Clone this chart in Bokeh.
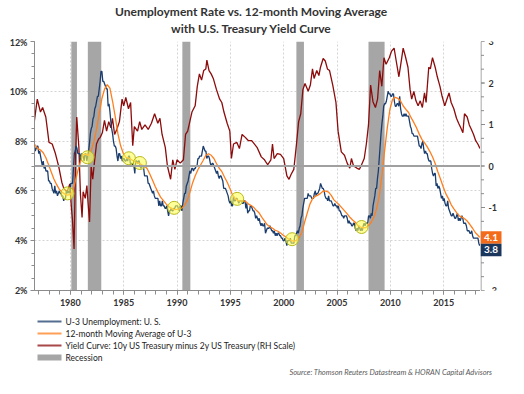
from bokeh.plotting import figure
from bokeh.layouts import column, row
from bokeh.models import (Range1d, LinearAxis, SingleIntervalTicker, PrintfTickFormatter,
                          Span, Grid, Label)
from bokeh.core.properties import value
from bokeh.embed import file_html
from bokeh.resources import INLINE

title_lines = ["Unemployment Rate vs. 12-month Moving Average", "with U.S. Treasury Yield Curve"]
source_note = "Source: Thomson Reuters Datastream & HORAN Capital Advisors"
series_names = ["U-3 Unemployment: U. S.", "12-month Moving Average of U-3",
                "Yield Curve: 10y US Treasury minus 2y US Treasury (RH Scale)", "Recession"]

# U-3 unemployment rate, monthly, starting June 1976
u3_start_year, u3_start_month = 1976, 6
u3 = [
    7.6, 7.8, 7.8, 7.6, 7.7, 7.8, 7.8,
    7.5, 7.6, 7.4, 7.2, 7.0, 7.2, 6.9, 7.0, 6.8, 6.8, 6.8, 6.4,
    6.4, 6.3, 6.3, 6.1, 6.0, 5.9, 6.2, 5.9, 6.0, 5.8, 5.9, 6.0,
    5.9, 5.9, 5.8, 5.8, 5.6, 5.7, 5.7, 6.0, 5.9, 6.0, 5.9, 6.0,
    6.3, 6.3, 6.3, 6.9, 7.5, 7.6, 7.8, 7.7, 7.5, 7.5, 7.5, 7.2,
    7.5, 7.4, 7.4, 7.2, 7.5, 7.5, 7.2, 7.4, 7.6, 7.9, 8.3, 8.5,
    8.6, 8.9, 9.0, 9.3, 9.4, 9.6, 9.8, 9.8, 10.1, 10.4, 10.8, 10.8,
    10.4, 10.4, 10.3, 10.2, 10.1, 10.1, 9.4, 9.5, 9.2, 8.8, 8.5, 8.3,
    8.0, 7.8, 7.8, 7.7, 7.4, 7.2, 7.5, 7.5, 7.3, 7.4, 7.2, 7.3,
    7.3, 7.2, 7.2, 7.3, 7.2, 7.4, 7.4, 7.1, 7.1, 7.1, 7.0, 7.0,
    6.7, 7.2, 7.2, 7.1, 7.2, 7.2, 7.0, 6.9, 7.0, 7.0, 6.9, 6.6,
    6.6, 6.6, 6.6, 6.3, 6.3, 6.2, 6.1, 6.0, 5.9, 6.0, 5.8, 5.7,
    5.7, 5.7, 5.7, 5.4, 5.6, 5.4, 5.4, 5.6, 5.4, 5.4, 5.3, 5.3,
    5.4, 5.2, 5.0, 5.2, 5.2, 5.3, 5.2, 5.2, 5.3, 5.3, 5.4, 5.4,
    5.4, 5.3, 5.2, 5.4, 5.4, 5.2, 5.5, 5.7, 5.9, 5.9, 6.2, 6.3,
    6.4, 6.6, 6.8, 6.7, 6.9, 6.9, 6.8, 6.9, 6.9, 7.0, 7.0, 7.3,
    7.3, 7.4, 7.4, 7.4, 7.6, 7.8, 7.7, 7.6, 7.6, 7.3, 7.4, 7.4,
    7.3, 7.1, 7.0, 7.1, 7.1, 7.0, 6.9, 6.8, 6.7, 6.8, 6.6, 6.5,
    6.6, 6.6, 6.5, 6.4, 6.1, 6.1, 6.1, 6.0, 5.9, 5.8, 5.6, 5.5,
    5.6, 5.4, 5.4, 5.8, 5.6, 5.6, 5.7, 5.7, 5.6, 5.5, 5.6, 5.6,
    5.6, 5.5, 5.5, 5.6, 5.6, 5.3, 5.5, 5.1, 5.2, 5.2, 5.4, 5.4,
    5.3, 5.2, 5.2, 5.1, 4.9, 5.0, 4.9, 4.8, 4.9, 4.7, 4.6, 4.7,
    4.6, 4.6, 4.7, 4.3, 4.4, 4.5, 4.5, 4.5, 4.6, 4.5, 4.4, 4.4,
    4.3, 4.4, 4.2, 4.3, 4.2, 4.3, 4.3, 4.2, 4.2, 4.1, 4.1, 4.0,
    4.0, 4.1, 4.0, 3.8, 4.0, 4.0, 4.0, 4.1, 3.9, 3.9, 3.9, 3.9,
    4.2, 4.2, 4.3, 4.4, 4.3, 4.5, 4.6, 4.9, 5.0, 5.3, 5.5, 5.7,
    5.7, 5.7, 5.7, 5.9, 5.8, 5.8, 5.8, 5.7, 5.7, 5.7, 5.9, 6.0,
    5.8, 5.9, 5.9, 6.0, 6.1, 6.3, 6.2, 6.1, 6.1, 6.0, 5.8, 5.7,
    5.7, 5.6, 5.8, 5.6, 5.6, 5.6, 5.5, 5.4, 5.4, 5.5, 5.4, 5.4,
    5.3, 5.4, 5.2, 5.2, 5.1, 5.0, 5.0, 4.9, 5.0, 5.0, 5.0, 4.9,
    4.7, 4.8, 4.7, 4.7, 4.6, 4.6, 4.7, 4.7, 4.5, 4.4, 4.5, 4.4,
    4.6, 4.5, 4.4, 4.5, 4.4, 4.6, 4.7, 4.6, 4.7, 4.7, 4.7, 5.0,
    5.0, 4.9, 5.1, 5.0, 5.4, 5.6, 5.8, 6.1, 6.1, 6.5, 6.8, 7.3,
    7.8, 8.3, 8.7, 9.0, 9.4, 9.5, 9.5, 9.6, 9.8, 10.0, 9.9, 9.9,
    9.8, 9.8, 9.9, 9.9, 9.6, 9.4, 9.4, 9.5, 9.5, 9.4, 9.8, 9.3,
    9.1, 9.0, 9.0, 9.1, 9.0, 9.1, 9.0, 9.0, 9.0, 8.8, 8.6, 8.5,
    8.3, 8.3, 8.2, 8.2, 8.2, 8.2, 8.2, 8.0, 7.8, 7.8, 7.7, 7.9,
    8.0, 7.7, 7.5, 7.6, 7.5, 7.5, 7.3, 7.2, 7.2, 7.2, 6.9, 6.7,
    6.6, 6.7, 6.7, 6.2, 6.3, 6.1, 6.2, 6.1, 5.9, 5.7, 5.8, 5.6,
    5.7, 5.5, 5.4, 5.4, 5.6, 5.3, 5.2, 5.1, 5.0, 5.0, 5.1, 5.0,
    4.9, 4.9, 5.0, 5.1, 4.8, 4.9, 4.8, 4.9, 5.0, 4.9, 4.7, 4.7,
    4.7, 4.6, 4.4, 4.4, 4.4, 4.3, 4.3, 4.4, 4.2, 4.1, 4.1, 4.1,
    4.1, 4.1, 4.1, 3.9, 3.8,
]

# 12-month moving average of U-3, read at quarter ends starting June 1976, then May 2018
ma_start_year, ma_start_month, ma_step_months = 1976, 6, 3
ma_q = [
    8.02, 7.83, 7.70,
    7.64, 7.53, 7.33, 7.05,
    6.76, 6.48, 6.26, 6.07,
    5.95, 5.88, 5.83, 5.85,
    5.96, 6.37, 6.82, 7.18,
    7.46, 7.48, 7.41, 7.62,
    7.97, 8.48, 9.10, 9.71,
    10.09, 10.27, 10.13, 9.60,
    8.98, 8.30, 7.82, 7.51,
    7.35, 7.32, 7.26, 7.19,
    7.14, 7.11, 7.05, 7.00,
    6.89, 6.67, 6.43, 6.18,
    5.95, 5.75, 5.62, 5.49,
    5.37, 5.31, 5.25, 5.26,
    5.28, 5.31, 5.43, 5.62,
    5.94, 6.32, 6.61, 6.85,
    7.04, 7.23, 7.43, 7.49,
    7.43, 7.30, 7.09, 6.91,
    6.77, 6.55, 6.35, 6.10,
    5.83, 5.69, 5.61, 5.59,
    5.61, 5.57, 5.47, 5.41,
    5.33, 5.21, 5.11, 4.94,
    4.79, 4.64, 4.56, 4.50,
    4.42, 4.38, 4.31, 4.22,
    4.15, 4.07, 4.01, 3.97,
    4.02, 4.13, 4.34, 4.74,
    5.11, 5.47, 5.69, 5.78,
    5.83, 5.90, 6.00, 5.99,
    5.95, 5.82, 5.64, 5.54,
    5.44, 5.32, 5.20, 5.08,
    4.94, 4.83, 4.74, 4.61,
    4.55, 4.52, 4.53, 4.62,
    4.74, 4.95, 5.28, 5.80,
    6.62, 7.61, 8.52, 9.28,
    9.68, 9.76, 9.72, 9.61,
    9.41, 9.27, 9.15, 8.93,
    8.74, 8.53, 8.28, 8.07,
    7.93, 7.77, 7.58, 7.36,
    7.09, 6.76, 6.47, 6.16,
    5.88, 5.68, 5.44, 5.28,
    5.13, 5.00, 4.95, 4.88,
    4.79, 4.65, 4.50, 4.33,
    4.22,
]
ma_last_year, ma_last_month, ma_last = 2018, 5, 4.13

# 10y - 2y Treasury spread (right-hand scale)
yc_year = [
    1976.62, 1976.9, 1977.2, 1977.4, 1977.7, 1978.0, 1978.3, 1978.6, 1978.9, 1979.2,
    1979.4, 1979.7, 1979.95, 1980.1, 1980.2, 1980.35, 1980.5, 1980.6, 1980.8, 1980.95,
    1981.1, 1981.2, 1981.4, 1981.55, 1981.65, 1981.8, 1981.95, 1982.1, 1982.25, 1982.45,
    1982.65, 1982.8, 1983.0, 1983.2, 1983.4, 1983.6, 1983.8, 1983.95, 1984.15, 1984.35,
    1984.6, 1984.85, 1985.0, 1985.2, 1985.45, 1985.65, 1985.85, 1986.0, 1986.3, 1986.5,
    1986.7, 1987.0, 1987.3, 1987.6, 1987.9, 1988.2, 1988.4, 1988.6, 1988.9, 1989.1,
    1989.4, 1989.6, 1989.8, 1990.0, 1990.3, 1990.6, 1990.8, 1991.0, 1991.2, 1991.4,
    1991.7, 1991.9, 1992.1, 1992.3, 1992.5, 1992.7, 1992.8, 1993.0, 1993.2, 1993.4,
    1993.7, 1994.0, 1994.2, 1994.4, 1994.7, 1994.95, 1995.1, 1995.3, 1995.6, 1995.85,
    1996.1, 1996.4, 1996.7, 1997.0, 1997.5, 1997.9, 1998.2, 1998.5, 1998.8, 1998.95,
    1999.1, 1999.4, 1999.7, 2000.0, 2000.3, 2000.5, 2000.7, 2000.95, 2001.2, 2001.4,
    2001.6, 2001.8, 2002.0, 2002.3, 2002.5, 2002.7, 2002.85, 2003.1, 2003.3, 2003.45,
    2003.7, 2003.9, 2004.1, 2004.3, 2004.6, 2004.9, 2005.1, 2005.4, 2005.7, 2005.95,
    2006.2, 2006.35, 2006.55, 2006.85, 2007.1, 2007.3, 2007.55, 2007.75, 2007.95, 2008.15,
    2008.37, 2008.6, 2008.8, 2009.0, 2009.2, 2009.4, 2009.6, 2009.9, 2010.1, 2010.35,
    2010.55, 2010.8, 2011.0, 2011.2, 2011.4, 2011.65, 2011.85, 2012.0, 2012.2, 2012.4,
    2012.6, 2012.8, 2013.0, 2013.2, 2013.35, 2013.6, 2013.75, 2013.95, 2014.2, 2014.4,
    2014.65, 2014.85, 2015.1, 2015.3, 2015.5, 2015.7, 2015.95, 2016.2, 2016.4, 2016.6,
    2016.8, 2016.95, 2017.2, 2017.4, 2017.6, 2017.8, 2018.0, 2018.2, 2018.4,
]
yc_val = [
    1.07, 1.61, 1.30, 1.41, 1.18, 0.57, 0.53, 0.30, 0.00, -0.39,
    -0.55, -0.62, -0.43, -1.00, -1.30, -2.00, 0.30, 1.18, 0.45, -0.70,
    -1.24, -0.62, -0.78, -0.47, -0.85, -1.35, 0.00, -0.32, 0.07, 0.53,
    0.65, 0.69, 0.80, 1.10, 0.84, 1.07, 0.92, 1.15, 0.76, 0.88,
    1.07, 1.61, 1.45, 1.65, 1.38, 1.53, 0.49, 0.95, 0.84, 1.07,
    0.88, 0.99, 0.88, 1.03, 1.26, 1.03, 1.15, 0.76, 0.45, 0.00,
    -0.32, 0.15, -0.08, 0.15, 0.07, 0.15, 0.76, 0.84, 1.07, 1.30,
    1.45, 1.92, 2.22, 2.07, 2.30, 2.34, 2.55, 2.30, 2.22, 2.11,
    1.84, 1.61, 1.53, 1.30, 1.03, 0.84, 0.18, 0.53, 0.57, 0.42,
    0.76, 0.69, 0.61, 0.61, 0.45, 0.22, 0.15, 0.03, 0.15, 0.53,
    0.18, 0.30, 0.28, 0.18, -0.24, -0.32, -0.20, -0.08, 0.53, 1.07,
    1.26, 1.84, 1.99, 1.80, 1.95, 2.34, 2.11, 2.30, 2.18, 2.38,
    2.59, 2.53, 2.34, 2.30, 1.95, 1.53, 0.84, 0.34, 0.26, 0.07,
    -0.05, 0.18, 0.00, -0.05, -0.08, 0.03, 0.18, 0.53, 0.99, 1.95,
    1.55, 1.41, 1.61, 2.30, 1.92, 2.61, 2.45, 2.61, 2.76, 2.84,
    2.53, 2.15, 2.49, 2.84, 2.65, 2.38, 1.84, 1.61, 1.80, 1.57,
    1.45, 1.57, 1.41, 1.76, 1.53, 2.38, 2.34, 2.61, 2.38, 2.15,
    1.92, 1.68, 1.45, 1.61, 1.76, 1.53, 1.38, 1.15, 1.03, 0.92,
    0.80, 1.26, 1.18, 0.99, 0.88, 0.76, 0.61, 0.53, 0.42,
]

recession_start = [1980.09, 1981.64, 1990.5, 2001.19, 2007.95]
recession_end = [1980.62, 1982.9, 1991.25, 2001.9, 2009.46]

cross_year = [1979.73, 1981.61, 1985.49, 1986.52, 1989.73, 1995.64, 2000.79, 2007.3]
cross_val = [5.9, 7.35, 7.31, 7.12, 5.32, 5.68, 4.06, 4.55]

# right-hand (yield curve) scale tick labels
rh_ticks = [3, 2, 1, 0, -1, -2, -3]

# colours and fonts
C_BLUE = "#1b3d6d"
C_ORANGE = "#ff7f1e"
C_RED = "#8c0b0b"
C_REC = "#a6a6a6"
C_TEXT = "#333333"
C_AXIS = "#8c8c8c"
C_TAG_ORANGE = "#f36c1c"
C_TAG_NAVY = "#1b365d"
FONT = "Lato"

W = 508
W_RIGHT = 28
H_TITLE = 36
H_MAIN = 276
H_LEG = 66
B_LEFT, B_TOP, B_BOTTOM = 34, 5, 22
FRAME_H = H_MAIN - B_TOP - B_BOTTOM
Y0, Y1 = 2, 12
R0, R1 = -3, 3
TAG_W, TAG_H = 21, 12.5


def month_pos(year, month):
    return year + (month - 0.5) / 12.0


u3_x = [month_pos(u3_start_year, u3_start_month + i) for i in range(len(u3))]
ma_x = [month_pos(ma_start_year, ma_start_month + ma_step_months * i) for i in range(len(ma_q))]
ma_x.append(month_pos(ma_last_year, ma_last_month))
ma_y = list(ma_q) + [ma_last]


def strip(width, height):
    f = figure(width=width, height=height, output_backend="svg", toolbar_location=None,
               x_range=Range1d(0, width), y_range=Range1d(height, 0),
               min_border_left=0, min_border_right=0, min_border_top=0, min_border_bottom=0,
               x_axis_type=None, y_axis_type=None)
    f.outline_line_color = None
    return f


# ---------- title strip ----------
tfig = strip(W, H_TITLE)
tfig.text(x=[B_LEFT + (W - B_LEFT - W_RIGHT) / 2 - 6] * 2, y=[11, 28], text=title_lines,
          text_font=value(FONT), text_font_style="bold", text_font_size=value("12px"),
          text_align="center", text_baseline="middle", text_color=C_TEXT)

# ---------- main chart ----------
p = figure(width=W - W_RIGHT, height=H_MAIN, output_backend="svg", toolbar_location=None,
           x_range=Range1d(1976.64, 2018.45), y_range=Range1d(Y0, Y1),
           min_border_left=B_LEFT, min_border_right=0, min_border_top=B_TOP,
           min_border_bottom=B_BOTTOM, x_axis_type=None, y_axis_type=None)
p.outline_line_color = None
p.extra_y_ranges = {"yc": Range1d(R0, R1)}

xaxis = LinearAxis(ticker=SingleIntervalTicker(interval=5, num_minor_ticks=5))
yaxis = LinearAxis(ticker=SingleIntervalTicker(interval=2, num_minor_ticks=4),
                   formatter=PrintfTickFormatter(format="%d%%"))
for ax in (xaxis, yaxis):
    ax.axis_line_color = C_AXIS
    ax.major_tick_line_color = C_AXIS
    ax.minor_tick_line_color = C_AXIS
    ax.major_tick_in = 0
    ax.minor_tick_in = 0
    ax.major_tick_out = 4
    ax.minor_tick_out = 3
    ax.major_label_text_font = FONT
    ax.major_label_text_font_style = "bold"
    ax.major_label_text_font_size = "9px"
    ax.major_label_text_color = C_TEXT
    ax.major_label_standoff = 3
xaxis.minor_tick_out = 4
xaxis.major_label_standoff = 4
p.add_layout(xaxis, "below")
p.add_layout(yaxis, "left")

p.add_layout(Grid(dimension=0, ticker=xaxis.ticker, grid_line_color="#d4d4d4",
                  grid_line_dash="2 2", grid_line_width=1))
p.add_layout(Grid(dimension=1, ticker=yaxis.ticker, grid_line_color="#d4d4d4",
                  grid_line_dash="2 2", grid_line_width=1))

p.quad(left=recession_start, right=recession_end, bottom=Y0, top=Y1,
       fill_color=C_REC, line_color=None)

p.add_layout(Span(location=0, dimension="width", y_range_name="yc",
                  line_color="#a0a0a0", line_width=2))

p.line(yc_year, yc_val, y_range_name="yc", line_color=C_RED, line_width=1.3)
p.line(u3_x, u3, line_color=C_BLUE, line_width=1.3)
p.line(ma_x, ma_y, line_color=C_ORANGE, line_width=1.3)

p.scatter(cross_year, cross_val, size=13, fill_color="#ffff55", fill_alpha=0.6,
          line_color="#b8b820", line_width=1)

# ---------- right-hand scale + end-value tags (frame aligned with the main chart) ----------
unit_l = FRAME_H / (Y1 - Y0)
rfig = figure(width=W_RIGHT, height=H_MAIN, output_backend="svg", toolbar_location=None,
              x_range=Range1d(0, W_RIGHT), y_range=Range1d(Y0, Y1),
              min_border_left=0, min_border_right=0, min_border_top=B_TOP,
              min_border_bottom=B_BOTTOM, x_axis_type=None, y_axis_type=None)
rfig.outline_line_color = None
rfig.extra_y_ranges = {"yc": Range1d(R0, R1)}
minor_r = [R0 + k / 3 for k in range((R1 - R0) * 3 + 1)]
rfig.segment(x0=[0.5], x1=[0.5], y0=[R0], y1=[R1], y_range_name="yc",
             line_color=C_AXIS, line_width=1)
rfig.segment(x0=[0.5] * len(minor_r), x1=[3.5] * len(minor_r), y0=minor_r, y1=minor_r,
             y_range_name="yc", line_color=C_AXIS, line_width=1)
rfig.segment(x0=[0.5] * len(rh_ticks), x1=[4.5] * len(rh_ticks), y0=rh_ticks, y1=rh_ticks,
             y_range_name="yc", line_color=C_AXIS, line_width=1)
inner = rh_ticks[1:-1]
rfig.text(x=[8] * len(inner), y=inner, text=[str(t) for t in inner],
          y_range_name="yc", text_font=value(FONT), text_font_style="bold",
          text_font_size=value("9px"), text_baseline="middle", text_color=C_TEXT)
for t in (rh_ticks[0], rh_ticks[-1]):
    rfig.add_layout(Label(x=8, y=t, y_range_name="yc", text=str(t), text_font=FONT,
                          text_font_style="bold", text_font_size="9px",
                          text_baseline="middle", text_color=C_TEXT))

half = TAG_H / 2 / unit_l
ma_tag_top, ma_tag_bot = ma_last + half, ma_last - half
u3_tag_top, u3_tag_bot = ma_tag_bot, ma_tag_bot - TAG_H / unit_l
rfig.quad(left=[0, 0], right=[TAG_W, TAG_W], top=[ma_tag_top, u3_tag_top],
          bottom=[ma_tag_bot, u3_tag_bot], fill_color=[C_TAG_ORANGE, C_TAG_NAVY],
          line_color=None)
rfig.text(x=[TAG_W / 2] * 2, y=[(ma_tag_top + ma_tag_bot) / 2, (u3_tag_top + u3_tag_bot) / 2],
          text=["%.1f" % ma_last, "%.1f" % u3[-1]], text_font=value(FONT),
          text_font_style="bold", text_font_size=value("10px"), text_align="center",
          text_baseline="middle", text_color="white")

# ---------- legend + source strip ----------
leg = strip(W, H_LEG)
leg_rows = [9, 21, 33, 45]
leg_x0, leg_x1, leg_tx = 37, 61, 65
leg.segment(x0=[leg_x0] * 3, x1=[leg_x1] * 3, y0=leg_rows[:3], y1=leg_rows[:3],
            line_color=[C_BLUE, C_ORANGE, C_RED], line_width=2, line_alpha=0.75)
leg.quad(left=[leg_x0], right=[leg_x1], top=[leg_rows[3] - 3], bottom=[leg_rows[3] + 3],
         fill_color=C_REC, line_color=None)
leg.text(x=[leg_tx] * 4, y=leg_rows, text=series_names, text_font=value(FONT),
         text_font_size=value("8.5px"), text_baseline="middle", text_color="#222222")
leg.text(x=[492], y=[60], text=[source_note], text_font=value(FONT),
         text_font_style="italic", text_font_size=value("7.5px"), text_align="right",
         text_baseline="middle", text_color="#595959")

layout = column(tfig, row(p, rfig, spacing=0), leg, spacing=0)
open("out.html", "w").write(file_html(layout, INLINE))
